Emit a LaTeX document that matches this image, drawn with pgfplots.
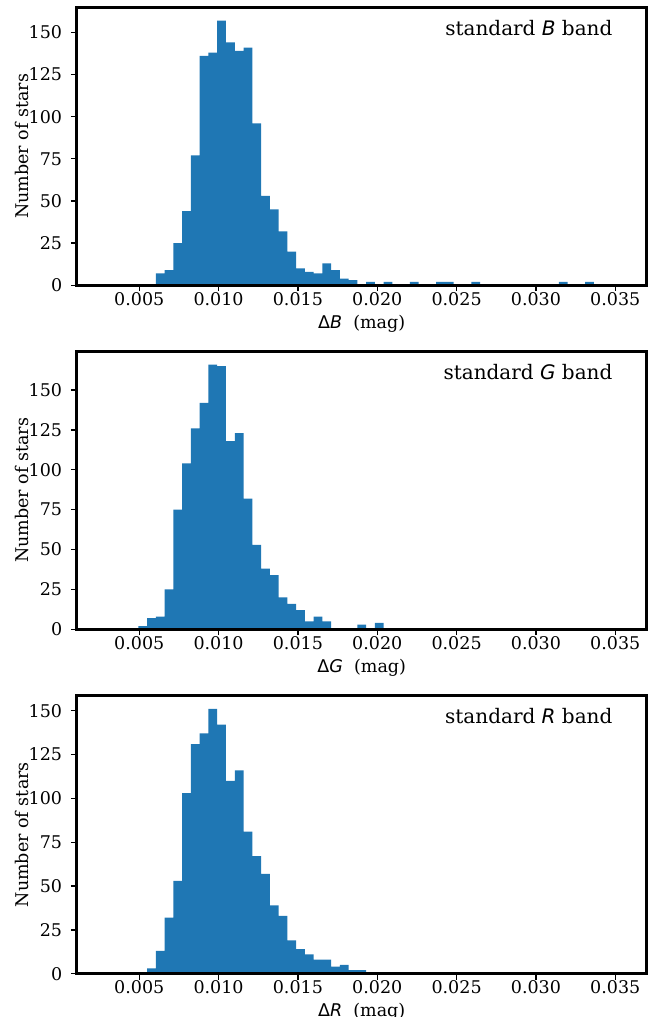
\documentclass[border=0pt]{standalone}
\usepackage{fontspec}
\setmainfont{DejaVu Serif}
\newfontfamily\dvsans{DejaVu Sans}
\usepackage{pgfplots}
\pgfplotsset{compat=1.18}
\usepackage{pgfplotstable}
\definecolor{c0}{HTML}{1F77B4}

\pgfplotstableread{
x y
0.006052 7
0.006604 9
0.007156 25
0.007708 44
0.008260 77
0.008812 136
0.009364 138
0.009916 157
0.010468 144
0.011020 139
0.011572 141
0.012124 96
0.012676 53
0.013228 45
0.013780 32
0.014332 20
0.014884 10
0.015436 8
0.015988 7
0.016540 13
0.017092 9
0.017644 4
0.018196 3
0.018748 0
0.019300 2
0.019852 0
0.020404 2
0.020956 0
0.021508 0
0.022060 2
0.022612 0
0.023164 0
0.023716 2
0.024268 2
0.024820 0
0.025372 0
0.025924 2
0.026476 0
0.027028 0
0.027580 0
0.028132 0
0.028684 0
0.029236 0
0.029788 0
0.030340 0
0.030892 0
0.031444 2
0.031996 0
0.032548 0
0.033100 2
0.033652 0
}\datB

\pgfplotstableread{
x y
0.004948 2
0.005500 7
0.006052 8
0.006604 25
0.007156 75
0.007708 104
0.008260 126
0.008812 142
0.009364 166
0.009916 165
0.010468 118
0.011020 123
0.011572 82
0.012124 53
0.012676 38
0.013228 34
0.013780 20
0.014332 16
0.014884 12
0.015436 5
0.015988 8
0.016540 5
0.017092 0
0.017644 0
0.018196 0
0.018748 3
0.019300 0
0.019852 4
0.020404 0
}\datG

\pgfplotstableread{
x y
0.005500 3
0.006052 13
0.006604 32
0.007156 53
0.007708 103
0.008260 131
0.008812 137
0.009364 151
0.009916 142
0.010468 110
0.011020 116
0.011572 81
0.012124 67
0.012676 57
0.013228 39
0.013780 33
0.014332 19
0.014884 14
0.015436 11
0.015988 8
0.016540 8
0.017092 4
0.017644 5
0.018196 2
0.018748 2
0.019300 0
}\datR

\pgfplotsset{
  hist/.style={
    scale only axis, width=342pt, height=166.8pt,
    xmin=0.00106, xmax=0.03698, ymin=0,
    axis on top,
    axis line style={line width=2pt},
    tick align=outside, major tick length=3.5pt,
    every tick/.style={black, line width=0.8pt},
    xtick={0.005,0.010,0.015,0.020,0.025,0.030,0.035},
    xticklabels={0.005,0.010,0.015,0.020,0.025,0.030,0.035},
    ytick={0,25,50,75,100,125,150},
    yticklabels={0,25,50,75,100,125,150},
    scaled x ticks=false, scaled y ticks=false,
    xtick pos=bottom, ytick pos=left,
    tick label style={font=\fontsize{10.5}{12}\selectfont},
    xticklabel style={anchor=base, yshift=-8.4pt},
    yticklabel style={anchor=east, inner sep=0pt, xshift=-5.04pt},
    label style={font=\fontsize{10.5}{12}\selectfont},
    xlabel style={at={(axis description cs:0.5,-0.1545)}, anchor=base},
    ylabel style={at={(axis description cs:-0.0849,0.5)}, anchor=base},
    ylabel={Number of stars},
    clip=false,
  }
}

\begin{document}
\begin{tikzpicture}
\begin{axis}[hist, at={(46.02pt,-171.18pt)}, anchor=south west, ymax=164.85,
  xlabel={{\dvsans Δ\textit{B}}\ \ (mag)}]
\addplot[ybar interval, fill=c0, draw=none] table[x=x,y=y] {\datB};
\node[anchor=base east, inner sep=0pt, font=\fontsize{12}{14}\selectfont] at (rel axis cs:0.9404,0.900) {standard {\dvsans\itshape B} band};
\end{axis}
\begin{axis}[hist, at={(46.02pt,-377.58pt)}, anchor=south west, ymax=174.3,
  xlabel={{\dvsans Δ\textit{G}}\ \ (mag)}]
\addplot[ybar interval, fill=c0, draw=none] table[x=x,y=y] {\datG};
\node[anchor=base east, inner sep=0pt, font=\fontsize{12}{14}\selectfont] at (rel axis cs:0.9404,0.900) {standard {\dvsans\itshape G} band};
\end{axis}
\begin{axis}[hist, at={(46.02pt,-584.22pt)}, anchor=south west, ymax=158.55,
  xlabel={{\dvsans Δ\textit{R}}\ \ (mag)}]
\addplot[ybar interval, fill=c0, draw=none] table[x=x,y=y] {\datR};
\node[anchor=base east, inner sep=0pt, font=\fontsize{12}{14}\selectfont] at (rel axis cs:0.9404,0.900) {standard {\dvsans\itshape R} band};
\end{axis}
\pgfresetboundingbox
\path[use as bounding box] (0,0) rectangle (397.2pt,-610.2pt);
\end{tikzpicture}
\end{document}
